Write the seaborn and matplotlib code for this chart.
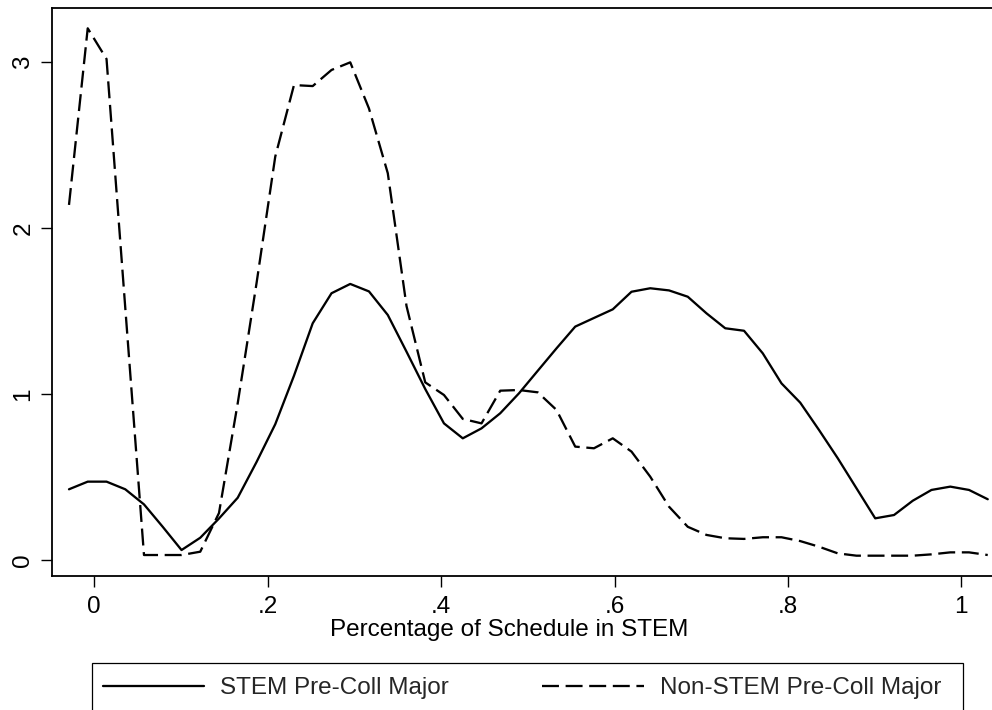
import numpy as np
import pandas as pd
import matplotlib
matplotlib.use("Agg")
import matplotlib.pyplot as plt
from matplotlib.patches import Rectangle
import seaborn as sns

# ---- data ----
x_grid = [-0.0292, -0.0076, 0.0141, 0.0357, 0.0573, 0.0789, 0.1006, 0.1222, 0.1438, 0.1654,
          0.1871, 0.2087, 0.2303, 0.2519, 0.2736, 0.2952, 0.3168, 0.3385, 0.3601, 0.3817,
          0.4033, 0.4250, 0.4466, 0.4682, 0.4898, 0.5115, 0.5331, 0.5547, 0.5763, 0.5980,
          0.6196, 0.6412, 0.6629, 0.6845, 0.7061, 0.7277, 0.7494, 0.7710, 0.7926, 0.8142,
          0.8359, 0.8575, 0.8791, 0.9007, 0.9224, 0.9440, 0.9656, 0.9873, 1.0089, 1.0305]

stem_density = [0.426, 0.472, 0.472, 0.426, 0.335, 0.200, 0.060, 0.134, 0.250, 0.375,
                0.590, 0.818, 1.110, 1.426, 1.607, 1.663, 1.618, 1.476, 1.255, 1.030,
                0.823, 0.733, 0.793, 0.884, 1.004, 1.140, 1.275, 1.406, 1.458, 1.510,
                1.616, 1.637, 1.624, 1.586, 1.486, 1.396, 1.381, 1.245, 1.064, 0.948,
                0.783, 0.613, 0.432, 0.251, 0.271, 0.357, 0.422, 0.442, 0.422, 0.366]

nonstem_density = [2.139, 3.203, 3.018, 1.520, 0.030, 0.030, 0.030, 0.050, 0.283, 0.944,
                   1.667, 2.430, 2.861, 2.855, 2.952, 2.998, 2.720, 2.330, 1.530, 1.070,
                   0.994, 0.850, 0.823, 1.020, 1.024, 1.010, 0.904, 0.683, 0.673, 0.733,
                   0.653, 0.502, 0.321, 0.200, 0.151, 0.131, 0.127, 0.137, 0.137, 0.114,
                   0.080, 0.040, 0.026, 0.026, 0.026, 0.026, 0.034, 0.046, 0.046, 0.030]

series_labels = ["STEM Pre-Coll Major", "Non-STEM Pre-Coll Major"]
x_ticks = [0, 0.2, 0.4, 0.6, 0.8, 1.0]
x_ticklabels = ["0", ".2", ".4", ".6", ".8", "1"]
y_ticks = [0, 1, 2, 3]
y_ticklabels = ["0", "1", "2", "3"]
x_title = "Percentage of Schedule in STEM"

# ---- style ----
sns.set_theme(style="white")
plt.rcParams["font.family"] = ["Liberation Sans", "DejaVu Sans"]
FS = 17.5
DASH = (0, (7.4, 2.9))

W, H = 992, 710
fig = plt.figure(figsize=(W / 100, H / 100), dpi=100)
fig.patch.set_facecolor("white")
ax = fig.add_axes([52 / W, 1 - 576 / H, (1005 - 52) / W, (576 - 8.3) / H])
ax.set_facecolor("white")

df_stem = pd.DataFrame({"x": x_grid, "y": stem_density})
df_non = pd.DataFrame({"x": x_grid, "y": nonstem_density})

sns.lineplot(data=df_stem, x="x", y="y", ax=ax, color="black", linewidth=1.65,
             label=series_labels[0], legend=False)
sns.lineplot(data=df_non, x="x", y="y", ax=ax, color="black", linewidth=1.65,
             linestyle=DASH, label=series_labels[1], legend=False)

ax.set_xlim(-0.0488, 1.0504)
ax.set_ylim(-0.0964, 3.3235)

ax.set_xticks(x_ticks)
ax.set_xticklabels(x_ticklabels, fontsize=FS)
ax.set_yticks(y_ticks)
ax.set_yticklabels(y_ticklabels, fontsize=FS, rotation=90, va="center")

ax.tick_params(axis="both", which="major", direction="out", length=8.2, width=1.0,
               color="black", labelcolor="black", bottom=True, left=True)
ax.tick_params(axis="x", pad=6.5)
ax.tick_params(axis="y", pad=4.5)

for s in ax.spines.values():
    s.set_visible(True)
    s.set_color("black")
    s.set_linewidth(1.3)

ax.set_ylabel("")
ax.set_xlabel(x_title, fontsize=FS, color="black")
ax.xaxis.set_label_coords(0.480, -0.075)

# legend frame (bottom edge lies below the figure, as in the reference)
fig.patches.append(Rectangle((92.3 / W, -0.05), (962.7 - 92.3) / W, 0.05 + 1 - 662.7 / H,
                             transform=fig.transFigure, fill=False, edgecolor="black",
                             linewidth=0.9, zorder=5))

handles = ax.get_lines()[:2]
leg = ax.legend(handles, series_labels, loc="center left",
                bbox_to_anchor=(103 / W, 1 - 688 / H),
                bbox_transform=fig.transFigure, ncol=2,
                fontsize=FS, handlelength=4.16, handletextpad=0.66,
                columnspacing=3.85, borderpad=0, borderaxespad=0, frameon=False)

fig.savefig("out.png", dpi=100, facecolor="white")
